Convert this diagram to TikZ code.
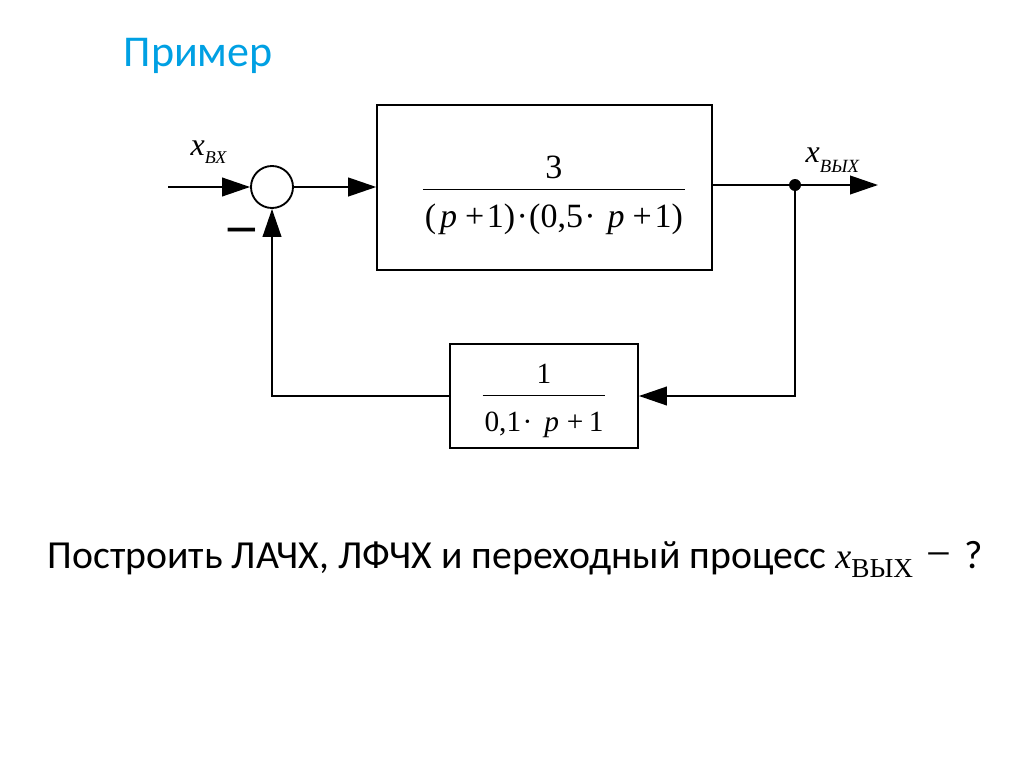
\documentclass[tikz,border=0pt]{standalone}
\usepackage{fontspec}
\setmainfont{Liberation Serif}
\newfontfamily\calib{Carlito}
\usetikzlibrary{arrows.meta,positioning}
\definecolor{titleblue}{RGB}{0,160,227}
% fraction: raise, numerator, rule height, denominator
\newcommand{\blkfrac}[4]{\smash{\raisebox{#1}{\begin{tabular}[t]{@{\hspace{1.5pt}}c@{\hspace{1.5pt}}}#2\\\hline\rule{0pt}{#3}#4\end{tabular}}}}

\begin{document}
\begin{tikzpicture}[x=0.75pt,y=-0.75pt,
  blk/.style={draw,line width=1.4pt,inner sep=0pt},
  sig/.style={line width=1.4pt,-{Triangle[length=21pt,width=14pt]}},
  wire/.style={line width=1.4pt}]
\useasboundingbox (0,0) rectangle (1024,767);

\node[anchor=base west,text=titleblue,font=\calib\fontsize{33}{38}\selectfont] (title) at (119,67) {Пример};

\node[blk,minimum width=251pt,minimum height=124pt,font=\fontsize{25.5}{26}\selectfont] (plant) at (544.5,187.5)
  {\hspace*{14pt}\blkfrac{7pt}{3}{29pt}{(\hspace{3pt}\textit{p}\hspace{6pt}+\hspace{2pt}1)\hspace{1pt}·\hspace{1pt}(0,5\hspace{1pt}·\hspace{9pt}\textit{p}\hspace{6pt}+\hspace{2pt}1)}};
\node[blk,minimum width=141pt,minimum height=78pt,font=\fontsize{22}{30}\selectfont] (fb) at (544,396)
  {\blkfrac{9.75pt}{1}{27pt}{0,1\hspace{1pt}·\hspace{9pt}\textit{p}\hspace{6pt}+\hspace{4pt}1}};
\node[circle,draw,line width=1.4pt,minimum size=31.5pt,inner sep=0pt] (sum) at (272,187) {};
\node[circle,fill=black,inner sep=0pt,minimum size=9pt] (tap) at (795,185) {};

\coordinate (in) at (168,187);
\coordinate (out) at (878,185);
\coordinate (c1) at (795,396);
\coordinate (c2) at (272,396);

\draw[sig] (in) -- (sum);
\draw[sig] (sum) -- (sum -| plant.west);
\draw[wire] (plant.east |- tap) -- (tap);
\draw[sig] (tap) -- (out);
\draw[sig] (tap) -- (c1) -- (fb);
\draw[sig] (fb) -- (c2) -- (sum);

\node[anchor=base west,font=\fontsize{24}{27}\selectfont] (xin) at (186,155) {\textit{x}\raisebox{-6.5pt}{\fontsize{13.5}{15}\selectfont\textit{ВХ}}};
\node[anchor=base west,font=\fontsize{24}{27}\selectfont] (xout) at (801,162) {\textit{x}\raisebox{-8pt}{\fontsize{14}{15}\selectfont\textit{ВЫХ}}};
\node[anchor=base,font=\bfseries\fontsize{40}{44}\selectfont] (minus) at (242,242) {–};

\node[anchor=base west,font=\calib\fontsize{29.8}{34}\selectfont] (task) at (43,568) {Построить ЛАЧХ, ЛФЧХ и переходный процесс {\rmfamily\itshape\fontsize{27}{30}\selectfont x}\raisebox{-7pt}{\rmfamily\fontsize{20.5}{24}\selectfont ВЫХ}\hspace{10pt}{\rmfamily\fontsize{33}{30}\selectfont −}\hspace{10pt}?};

\end{tikzpicture}
\end{document}
